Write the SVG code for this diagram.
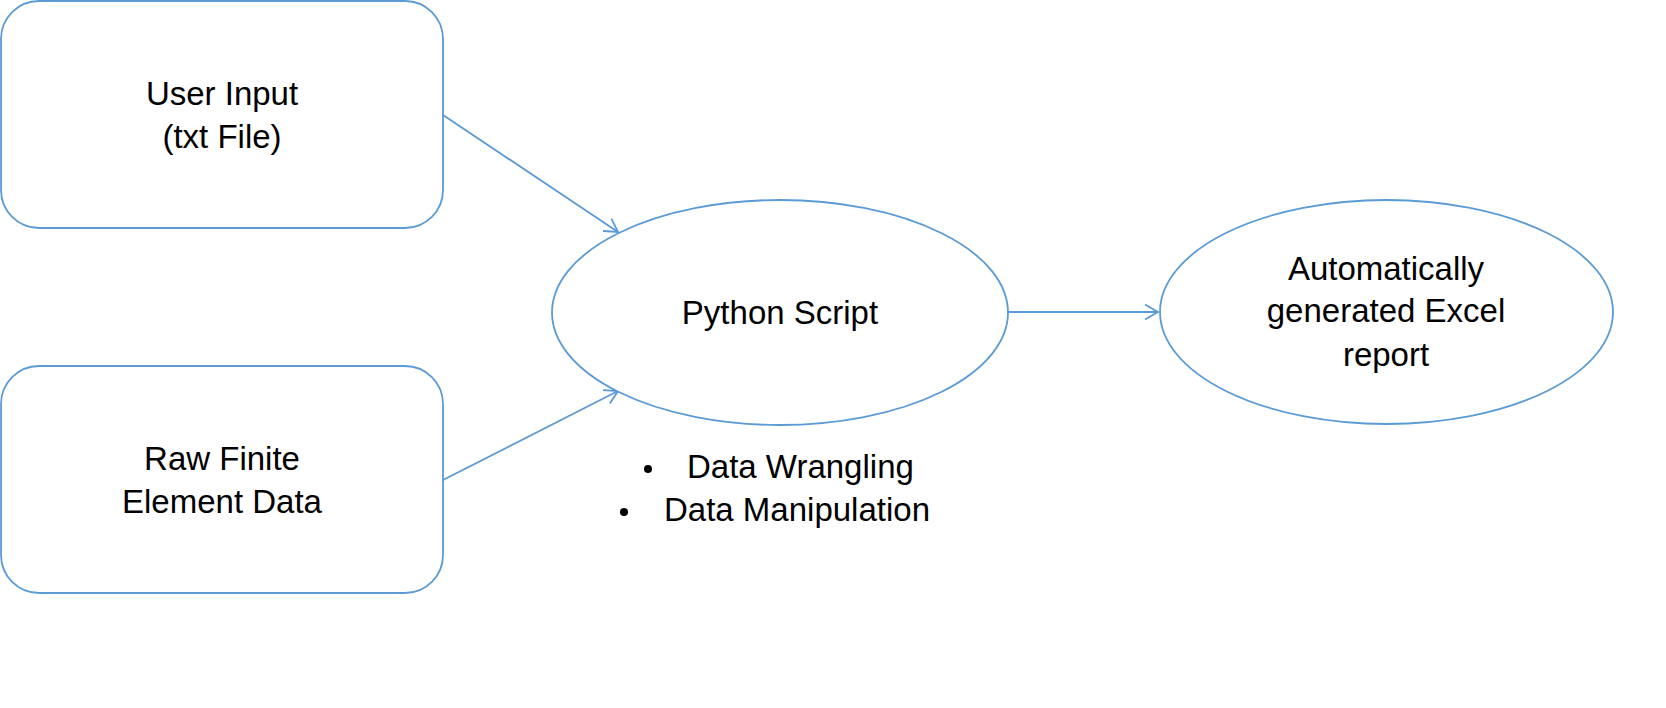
<svg xmlns="http://www.w3.org/2000/svg" width="1666" height="708" viewBox="0 0 1666 708">
  <style>
    .shape { fill: #FFFFFF; stroke: #5B9BD5; stroke-width: 1.8; }
    .conn { fill: none; stroke: #5B9BD5; stroke-width: 1.8; }
    .label { font-family: "Liberation Sans", Arial, sans-serif; font-size: 33px; fill: #000000; text-anchor: middle; }
    .bullet-text { font-family: "Liberation Sans", Arial, sans-serif; font-size: 33px; fill: #000000; }
  </style>
  <defs>
    <marker id="openArrow" markerUnits="userSpaceOnUse" viewBox="-16 -10 18 20" refX="0" refY="0" markerWidth="18" markerHeight="20" orient="auto" overflow="visible">
      <path d="M-13,-7.5 L0,0 L-13,7.5" fill="none" stroke="#5B9BD5" stroke-width="1.8"/>
    </marker>
  </defs>
  <rect width="1666" height="708" fill="#FFFFFF"/>

  <g id="connectors">
    <line class="conn" x1="443" y1="115" x2="618" y2="232" marker-end="url(#openArrow)"/>
    <line class="conn" x1="443" y1="480" x2="618" y2="391" marker-end="url(#openArrow)"/>
    <line class="conn" x1="1008" y1="312" x2="1158" y2="312" marker-end="url(#openArrow)"/>
  </g>

  <g id="user-input">
    <rect class="shape" x="1" y="1" width="442" height="227" rx="38" ry="38"/>
    <text class="label" x="222" y="105">User Input</text>
    <text class="label" x="222" y="148">(txt File)</text>
  </g>

  <g id="raw-fe-data">
    <rect class="shape" x="1" y="366" width="442" height="227" rx="38" ry="38"/>
    <text class="label" x="222" y="470">Raw Finite</text>
    <text class="label" x="222" y="513">Element Data</text>
  </g>

  <g id="python-script">
    <ellipse class="shape" cx="780" cy="312.5" rx="228" ry="112.5"/>
    <text class="label" x="780" y="324">Python Script</text>
  </g>

  <g id="excel-report">
    <ellipse class="shape" cx="1386.5" cy="312" rx="226.5" ry="112"/>
    <text class="label" x="1386" y="280">Automatically</text>
    <text class="label" x="1386" y="322">generated Excel</text>
    <text class="label" x="1386" y="366">report</text>
  </g>

  <g id="python-notes">
    <circle cx="648" cy="469" r="4" fill="#000000"/>
    <text class="bullet-text" x="687" y="478">Data Wrangling</text>
    <circle cx="624" cy="512" r="4" fill="#000000"/>
    <text class="bullet-text" x="664" y="521">Data Manipulation</text>
  </g>
</svg>
